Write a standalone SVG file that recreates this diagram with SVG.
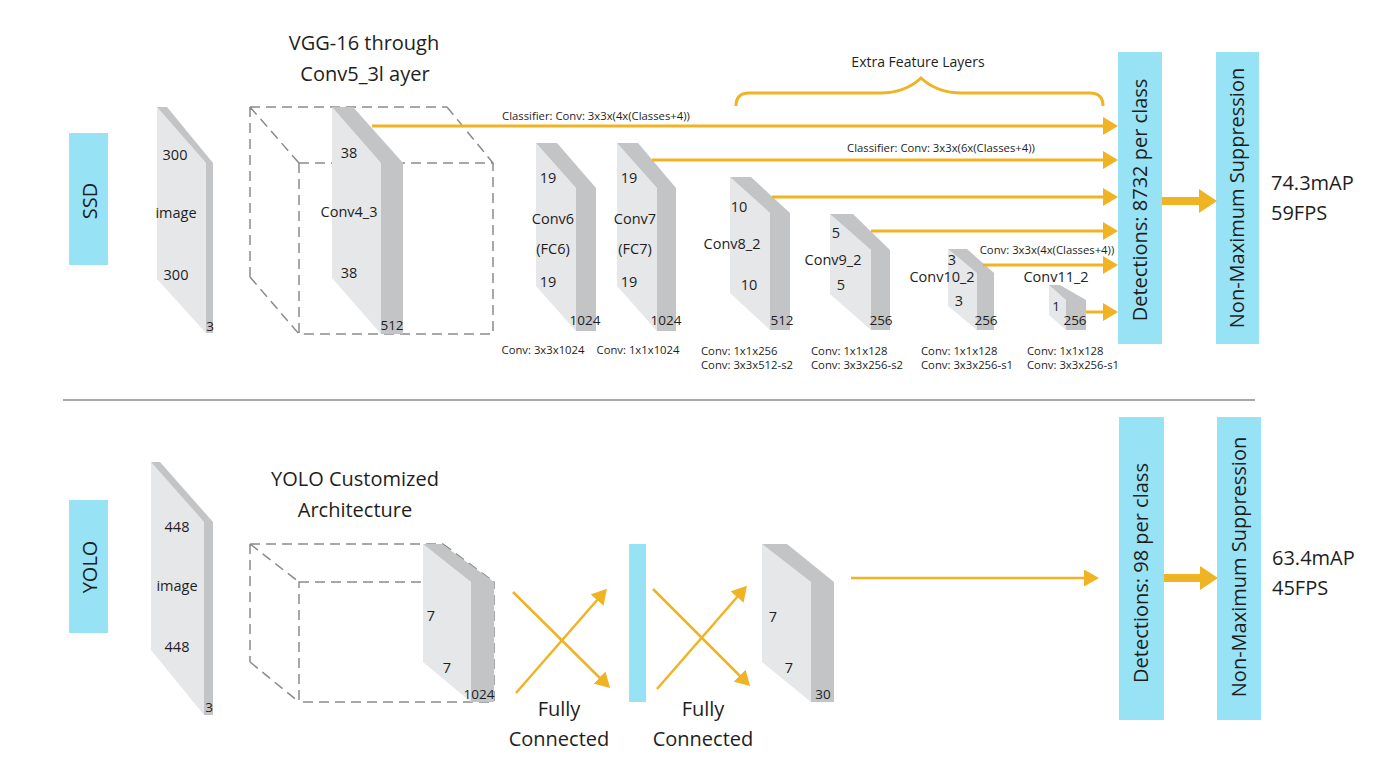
<svg xmlns="http://www.w3.org/2000/svg" width="1400" height="769" viewBox="0 0 1400 769">
<style>
text{font-family:"Open Sans","Noto Sans","DejaVu Sans",sans-serif;fill:#1e1e1e}
.lt{fill:#e6e7e9}
.dk{fill:#c3c4c5}
.cy{fill:#97e2f5}
.dash{fill:none;stroke:#8a8a8a;stroke-width:1.5;stroke-dasharray:10 6}
.arr{stroke:#f0b323;stroke-width:3;fill:none}
.x{stroke:#f0b323;stroke-width:2.5;fill:none}
.thick{stroke:#f0b323;stroke-width:8;fill:none}
.s{font-size:14.5px;text-anchor:middle}
.n{font-size:13.5px;text-anchor:middle}
.c{font-size:11.3px}
.t{font-size:20px;text-anchor:middle}
.r{font-size:20px}
</style>
<defs>
<marker id="ah" markerUnits="userSpaceOnUse" markerWidth="15" markerHeight="18" viewBox="0 0 15 18" refX="12" refY="9" orient="auto"><path d="M0,0 L15,9 L0,18 z" fill="#f0b323"/></marker>
<marker id="ax" markerUnits="userSpaceOnUse" markerWidth="15" markerHeight="17" viewBox="0 0 15 17" refX="12" refY="8.5" orient="auto"><path d="M0,0 L15,8.5 L0,17 z" fill="#f0b323"/></marker>
<marker id="at" markerUnits="userSpaceOnUse" markerWidth="18" markerHeight="24" viewBox="0 0 18 24" refX="0" refY="12" orient="auto"><path d="M0,0 L18,12 L0,24 z" fill="#f0b323"/></marker>
</defs>

<line x1="63" y1="400" x2="1255" y2="400" stroke="#8c8c8c" stroke-width="1.5"/>

<!-- SSD section -->
<g id="ssd-label"><rect class="cy" x="69" y="133" width="39" height="132"/><text class="t" transform="translate(90,201) rotate(-90)" y="7">SSD</text></g>

<g id="ssd-image">
<polygon class="lt" points="157,107 206,163 206,333 157,279"/>
<polygon class="dk" points="157,107 167,107 213,163 206,163"/>
<polygon class="dk" points="206,163 213,163 213,333 206,333"/>
<text class="s" x="175" y="160">300</text>
<text class="s" x="176" y="218">image</text>
<text class="s" x="176" y="280">300</text>
<text class="n" x="210" y="331">3</text>
</g>

<g id="vgg-title"><text class="t" x="364" y="50">VGG-16 through</text><text class="t" x="365" y="81">Conv5_3l ayer</text></g>

<g id="vgg-cube">
<path class="dash" d="M250,107 H447 M250,107 V277 M250,107 L299,163 M447,107 L493,163 M250,277 L299,334 M299,163 H493 V334 H299 Z"/>
</g>

<g id="conv4_3">
<polygon class="lt" points="332,107 381,163 381,334 332,278"/>
<polygon class="dk" points="332,107 353,107 403,163 381,163"/>
<polygon class="dk" points="381,163 403,163 403,334 381,334"/>
<text class="s" x="349" y="158">38</text>
<text class="s" x="349" y="217">Conv4_3</text>
<text class="s" x="349" y="278">38</text>
<text class="n" x="392" y="330">512</text>
</g>

<g id="conv6">
<polygon class="lt" points="536,143 576,188 576,331 536,286"/>
<polygon class="dk" points="536,143 557,143 596,188 576,188"/>
<polygon class="dk" points="576,188 596,188 596,331 576,331"/>
<text class="s" x="548" y="183">19</text>
<text class="s" x="553" y="224">Conv6</text>
<text class="s" x="553" y="254">(FC6)</text>
<text class="s" x="548" y="287">19</text>
<text class="n" x="585" y="325">1024</text>
</g>

<g id="conv7">
<polygon class="lt" points="617,143 657,188 657,331 617,286"/>
<polygon class="dk" points="617,143 638,143 676,188 657,188"/>
<polygon class="dk" points="657,188 676,188 676,331 657,331"/>
<text class="s" x="629" y="183">19</text>
<text class="s" x="635" y="224">Conv7</text>
<text class="s" x="635" y="254">(FC7)</text>
<text class="s" x="629" y="287">19</text>
<text class="n" x="666" y="325">1024</text>
</g>

<g id="conv8_2">
<polygon class="lt" points="730,177 770,213 770,330 730,293"/>
<polygon class="dk" points="730,177 751,177 790,213 770,213"/>
<polygon class="dk" points="770,213 790,213 790,330 770,330"/>
<text class="s" x="739" y="212">10</text>
<text class="s" x="732" y="249">Conv8_2</text>
<text class="s" x="749" y="290">10</text>
<text class="n" x="782" y="325">512</text>
</g>

<g id="conv9_2">
<polygon class="lt" points="830,214 871,250 871,330 830,294"/>
<polygon class="dk" points="830,214 853,214 890,250 871,250"/>
<polygon class="dk" points="871,250 890,250 890,330 871,330"/>
<text class="s" x="836" y="238">5</text>
<text class="s" x="833" y="265">Conv9_2</text>
<text class="s" x="841" y="290">5</text>
<text class="n" x="881" y="325">256</text>
</g>

<g id="conv10_2">
<polygon class="lt" points="948,249 977,273 977,330 948,306"/>
<polygon class="dk" points="948,249 967,249 994,273 977,273"/>
<polygon class="dk" points="977,273 994,273 994,330 977,330"/>
<text class="s" x="952" y="265">3</text>
<text class="s" x="942" y="282">Conv10_2</text>
<text class="s" x="959" y="306">3</text>
<text class="n" x="986" y="325">256</text>
</g>

<g id="conv11_2">
<polygon class="lt" points="1049,285 1066,300 1066,330 1049,315"/>
<polygon class="dk" points="1049,285 1060,285 1086,300 1066,300"/>
<polygon class="dk" points="1066,300 1086,300 1086,330 1066,330"/>
<text class="s" x="1056" y="282">Conv11_2</text>
<text class="n" x="1056" y="311">1</text>
<text class="n" x="1075" y="325">256</text>
</g>

<g id="layer-ops">
<text class="c" x="543" y="354" text-anchor="middle">Conv: 3x3x1024</text>
<text class="c" x="638" y="354" text-anchor="middle">Conv: 1x1x1024</text>
<text class="c" x="701" y="355">Conv: 1x1x256</text><text class="c" x="701" y="369">Conv: 3x3x512-s2</text>
<text class="c" x="811" y="355">Conv: 1x1x128</text><text class="c" x="811" y="369">Conv: 3x3x256-s2</text>
<text class="c" x="921" y="355">Conv: 1x1x128</text><text class="c" x="921" y="369">Conv: 3x3x256-s1</text>
<text class="c" x="1027" y="355">Conv: 1x1x128</text><text class="c" x="1027" y="369">Conv: 3x3x256-s1</text>
</g>

<g id="extra-feature-layers">
<path d="M736,106 Q736,93 749,93 L880,93 Q905,93 921,78 Q937,93 962,93 L1090,93 Q1103,93 1103,106" fill="none" stroke="#f0b323" stroke-width="3"/>
<text x="918" y="67" font-size="14" text-anchor="middle">Extra Feature Layers</text>
</g>

<g id="ssd-detections"><rect class="cy" x="1118" y="52" width="44" height="292"/><text class="t" font-size="19.5" transform="translate(1140,200) rotate(-90)" y="7">Detections: 8732 per class</text></g>
<g id="ssd-nms"><rect class="cy" x="1216" y="52" width="43" height="292"/><text class="t" transform="translate(1237,198) rotate(-90)" y="7">Non-Maximum Suppression</text></g>
<g id="ssd-result"><text class="r" x="1271" y="190">74.3mAP</text><text class="r" x="1271" y="220">59FPS</text></g>

<!-- YOLO section -->
<g id="yolo-label"><rect class="cy" x="69" y="500" width="39" height="133"/><text class="t" transform="translate(90,567) rotate(-90)" y="7">YOLO</text></g>

<g id="yolo-image">
<polygon class="lt" points="151,462 204,522 204,715 151,650"/>
<polygon class="dk" points="151,462 160,462 213,522 204,522"/>
<polygon class="dk" points="204,522 213,522 213,715 204,715"/>
<text class="s" x="177" y="532">448</text>
<text class="s" x="177" y="591">image</text>
<text class="s" x="177" y="652">448</text>
<text class="n" x="209" y="712">3</text>
</g>

<g id="yolo-title"><text class="t" x="355" y="486">YOLO Customized</text><text class="t" x="355" y="517">Architecture</text></g>

<g id="yolo-cube">
<path class="dash" d="M250,544 H443 M250,544 V662 M250,544 L299,582 M443,544 L494,582 M250,662 L299,702 M299,582 H494 V702 H299 Z"/>
</g>

<g id="yolo-7x7x1024">
<polygon class="lt" points="423,544 471,582 471,702 423,662"/>
<polygon class="dk" points="423,544 442,544 494,582 471,582"/>
<polygon class="dk" points="471,582 494,582 494,702 471,702"/>
<text class="s" x="431" y="621">7</text>
<text class="s" x="447" y="673">7</text>
<text class="n" x="479" y="699">1024</text>
</g>

<g id="fc1-label"><text class="t" x="559" y="716">Fully</text><text class="t" x="559" y="746">Connected</text></g>
<g id="fc-bar"><rect class="cy" x="629" y="544" width="17" height="158"/></g>
<g id="fc2-label"><text class="t" x="703" y="716">Fully</text><text class="t" x="703" y="746">Connected</text></g>

<g id="yolo-7x7x30">
<polygon class="lt" points="762,544 811,582 811,702 762,662"/>
<polygon class="dk" points="762,544 787,544 834,582 811,582"/>
<polygon class="dk" points="811,582 834,582 834,702 811,702"/>
<text class="s" x="773" y="622">7</text>
<text class="s" x="789" y="673">7</text>
<text class="n" x="823" y="699">30</text>
</g>

<g id="yolo-detections"><rect class="cy" x="1119" y="417" width="45" height="303"/><text class="t" font-size="19.5" transform="translate(1141,573) rotate(-90)" y="7">Detections: 98 per class</text></g>
<g id="yolo-nms"><rect class="cy" x="1217" y="417" width="44" height="303"/><text class="t" transform="translate(1239,567) rotate(-90)" y="7">Non-Maximum Suppression</text></g>
<g id="yolo-result"><text class="r" x="1272" y="565">63.4mAP</text><text class="r" x="1272" y="595">45FPS</text></g>

<!-- connectors -->
<g id="connectors">
<line class="arr" x1="372" y1="126" x2="1115" y2="126" marker-end="url(#ah)"/>
<line class="arr" x1="652" y1="160" x2="1115" y2="160" marker-end="url(#ah)"/>
<line class="arr" x1="772" y1="197" x2="1115" y2="197" marker-end="url(#ah)"/>
<line class="arr" x1="871" y1="231" x2="1115" y2="231" marker-end="url(#ah)"/>
<line class="arr" x1="983" y1="265" x2="1115" y2="265" marker-end="url(#ah)"/>
<line class="arr" x1="1086" y1="312" x2="1115" y2="312" marker-end="url(#ah)"/>
<text class="c" x="596" y="120" text-anchor="middle">Classifier: Conv: 3x3x(4x(Classes+4))</text>
<text class="c" x="941" y="152" text-anchor="middle">Classifier: Conv: 3x3x(6x(Classes+4))</text>
<text class="c" x="1047" y="254" text-anchor="middle">Conv: 3x3x(4x(Classes+4))</text>
<line class="thick" x1="1162" y1="201" x2="1199" y2="201" marker-end="url(#at)"/>
<line class="x" x1="513" y1="592" x2="608" y2="686" marker-end="url(#ax)"/>
<line class="x" x1="516" y1="693" x2="605" y2="591" marker-end="url(#ax)"/>
<line class="x" x1="653" y1="589" x2="748" y2="684" marker-end="url(#ax)"/>
<line class="x" x1="657" y1="689" x2="745" y2="588" marker-end="url(#ax)"/>
<line class="x" x1="851" y1="578" x2="1096" y2="578" marker-end="url(#ax)"/>
<line class="thick" x1="1164" y1="578" x2="1200" y2="578" marker-end="url(#at)"/>
</g>
</svg>
